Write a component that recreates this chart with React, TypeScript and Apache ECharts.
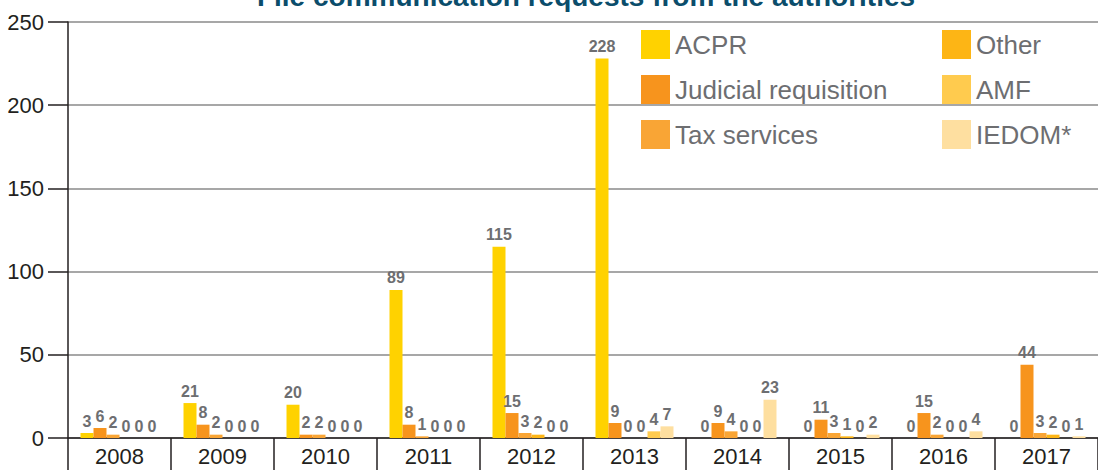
import React, { useEffect, useRef } from "react";
import * as echarts from "echarts";

const years = ["2008", "2009", "2010", "2011", "2012", "2013", "2014", "2015", "2016", "2017"];
const acpr = [3, 21, 20, 89, 115, 228, 0, 0, 0, 0];
const judicial = [6, 8, 2, 8, 15, 9, 9, 11, 15, 44];
const tax = [2, 2, 2, 1, 3, 0, 4, 3, 2, 3];
const other = [0, 0, 0, 0, 2, 0, 0, 1, 0, 2];
const amf = [0, 0, 0, 0, 0, 4, 0, 0, 0, 0];
const iedom = [0, 0, 0, 0, 0, 7, 23, 2, 4, 1];

const seriesNames = ["ACPR", "Judicial requisition", "Tax services", "Other", "AMF", "IEDOM*"];
const seriesData = [acpr, judicial, tax, other, amf, iedom];
const seriesColors = ["#FFD200", "#F7941D", "#F9A535", "#FDB515", "#FFCB4E", "#FEDFA0"];

const title = "File communication requests from the authorities";

const FONT = "'Liberation Sans', Arial, sans-serif";

export default function App() {
  const ref = useRef<HTMLDivElement>(null);
  useEffect(() => {
    if (!ref.current) return;
    const chart = echarts.init(ref.current, null, { renderer: "svg" });
    const legendText = { color: "#6D6E71", fontSize: 26, fontFamily: FONT };
    chart.setOption({
      animation: false,
      backgroundColor: "#ffffff",
      graphic: [
        {
          type: "text",
          x: 586,
          y: 10,
          style: {
            text: title,
            fill: "#0B4D6B",
            font: "bold 28px 'Liberation Sans', Arial, sans-serif",
            textAlign: "center",
            textVerticalAlign: "bottom",
          },
        },
      ],
      legend: [
        {
          data: seriesNames.slice(0, 3),
          orient: "vertical",
          left: 641,
          top: 30,
          itemWidth: 29,
          itemHeight: 29,
          itemGap: 16,
          icon: "rect",
          textStyle: legendText,
          padding: 0,
        },
        {
          data: seriesNames.slice(3),
          orient: "vertical",
          left: 942,
          top: 30,
          itemWidth: 29,
          itemHeight: 29,
          itemGap: 16,
          icon: "rect",
          textStyle: legendText,
          padding: 0,
        },
      ],
      grid: { left: 68, right: -5, top: 22, bottom: 32, containLabel: false },
      xAxis: {
        type: "category",
        data: years,
        axisLine: { show: true, lineStyle: { color: "#231F20", width: 1.5 } },
        axisTick: { show: true, length: 34, lineStyle: { color: "#231F20", width: 1.5 } },
        axisLabel: { color: "#231F20", fontSize: 22, fontFamily: FONT, margin: 7 },
        splitLine: { show: false },
      },
      yAxis: {
        type: "value",
        min: 0,
        max: 250,
        interval: 50,
        axisLine: { show: true, lineStyle: { color: "#231F20", width: 1.5 } },
        axisTick: { show: true, length: 20, lineStyle: { color: "#231F20", width: 1.5 } },
        axisLabel: { color: "#231F20", fontSize: 22, fontFamily: FONT, margin: 24 },
        splitLine: { show: true, lineStyle: { color: "#8A8A8A", width: 1.5 } },
      },
      series: seriesNames.map((name, i) => ({
        name,
        type: "bar",
        data: seriesData[i],
        barWidth: 13,
        barGap: "0%",
        itemStyle: { color: seriesColors[i] },
        label: {
          show: true,
          position: "top",
          distance: 4,
          color: "#6D6E71",
          fontSize: 16,
          fontWeight: "bold",
          fontFamily: FONT,
        },
      })),
    });
    return () => chart.dispose();
  }, []);
  return (
    <div
      ref={ref}
      style={{ position: "fixed", left: 0, top: 0, width: 1098, height: 470 }}
    />
  );
}
